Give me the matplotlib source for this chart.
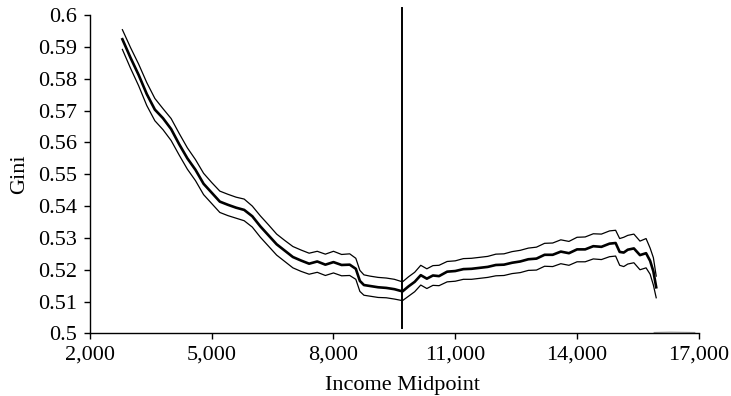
import numpy as np
import matplotlib.pyplot as plt

# income midpoints
income = [2800, 3000, 3200, 3400, 3600, 3800, 4000, 4200, 4400, 4600,
          4800, 5000, 5200, 5400, 5600, 5800, 6000, 6200, 6400, 6600,
          6800, 7000, 7200, 7400, 7600, 7800, 8000, 8200, 8400, 8550,
          8650, 8750, 8900, 9100, 9300, 9500, 9700, 9850, 10000, 10150,
          10300, 10450, 10600, 10800, 11000, 11200, 11400, 11600, 11800, 12000,
          12200, 12400, 12600, 12800, 13000, 13200, 13400, 13600, 13800, 14000,
          14200, 14400, 14600, 14800, 14950, 15050, 15150, 15250, 15400, 15550,
          15700, 15800, 15880, 15950]

# Gini estimate
gini_mid = [0.5924, 0.5866, 0.5812, 0.5752, 0.5703, 0.5676, 0.5642, 0.5594, 0.5550, 0.5514,
            0.5470, 0.5442, 0.5414, 0.5404, 0.5395, 0.5388, 0.5368, 0.5336, 0.5308, 0.5280,
            0.5260, 0.5240, 0.5229, 0.5219, 0.5226, 0.5216, 0.5224, 0.5215, 0.5216, 0.5203,
            0.5165, 0.5152, 0.5149, 0.5145, 0.5143, 0.5139, 0.5132, 0.5148, 0.5162, 0.5183,
            0.5172, 0.5182, 0.5180, 0.5194, 0.5196, 0.5202, 0.5203, 0.5206, 0.5209, 0.5215,
            0.5216, 0.5222, 0.5226, 0.5233, 0.5235, 0.5247, 0.5247, 0.5257, 0.5252, 0.5264,
            0.5264, 0.5274, 0.5272, 0.5282, 0.5284, 0.5256, 0.5254, 0.5263, 0.5267, 0.5246,
            0.5252, 0.5228, 0.5195, 0.5145]

# upper band
gini_hi = [0.5954, 0.5898, 0.5846, 0.5788, 0.5738, 0.5706, 0.5675, 0.5628, 0.5583, 0.5546,
           0.5503, 0.5474, 0.5447, 0.5437, 0.5428, 0.5422, 0.5400, 0.5369, 0.5341, 0.5312,
           0.5292, 0.5273, 0.5262, 0.5252, 0.5258, 0.5249, 0.5258, 0.5248, 0.5250, 0.5236,
           0.5198, 0.5184, 0.5180, 0.5176, 0.5174, 0.5170, 0.5162, 0.5178, 0.5192, 0.5214,
           0.5203, 0.5213, 0.5214, 0.5226, 0.5228, 0.5235, 0.5236, 0.5239, 0.5242, 0.5249,
           0.5250, 0.5257, 0.5261, 0.5268, 0.5271, 0.5283, 0.5284, 0.5294, 0.5289, 0.5302,
           0.5303, 0.5313, 0.5312, 0.5322, 0.5324, 0.5298, 0.5302, 0.5308, 0.5312, 0.5290,
           0.5298, 0.5268, 0.5238, 0.5180]

# lower band
gini_lo = [0.5892, 0.5833, 0.5778, 0.5716, 0.5668, 0.5640, 0.5606, 0.5560, 0.5516, 0.5480,
           0.5436, 0.5408, 0.5380, 0.5370, 0.5362, 0.5354, 0.5334, 0.5302, 0.5274, 0.5246,
           0.5226, 0.5206, 0.5195, 0.5186, 0.5192, 0.5182, 0.5190, 0.5181, 0.5182, 0.5170,
           0.5132, 0.5120, 0.5117, 0.5113, 0.5112, 0.5108, 0.5103, 0.5117, 0.5131, 0.5152,
           0.5141, 0.5151, 0.5150, 0.5162, 0.5164, 0.5170, 0.5170, 0.5173, 0.5176, 0.5181,
           0.5182, 0.5188, 0.5191, 0.5198, 0.5199, 0.5211, 0.5210, 0.5219, 0.5214, 0.5225,
           0.5225, 0.5234, 0.5232, 0.5241, 0.5243, 0.5214, 0.5210, 0.5218, 0.5222, 0.5200,
           0.5206, 0.5186, 0.5152, 0.5112]

# faint trailing segment near the axis
tail_x = [15900, 16300, 16900]
tail_y = [0.5003, 0.5004, 0.5003]

cutoff = 9700
cutoff_span = [0.5018, 0.6022]

x_ticks = [2000, 5000, 8000, 11000, 14000, 17000]
y_ticks = [0.5, 0.51, 0.52, 0.53, 0.54, 0.55, 0.56, 0.57, 0.58, 0.59, 0.6]

plt.rcParams['font.family'] = ['Liberation Serif', 'DejaVu Serif']

fig = plt.figure(figsize=(7.31, 3.96), dpi=100)
ax = fig.add_axes([0.123, 0.158, 0.833, 0.804])

ax.plot(income, gini_hi, color='black', lw=0.9)
ax.plot(income, gini_lo, color='black', lw=0.9)
ax.plot(income, gini_mid, color='black', lw=1.9)
ax.plot(tail_x, tail_y, color='#999999', lw=0.8)
ax.plot([cutoff, cutoff], cutoff_span, color='black', lw=1.4, clip_on=False)

ax.set_xlim(2000, 17000)
ax.set_ylim(0.5, 0.6)
ax.set_xticks(x_ticks)
ax.set_xticklabels([f'{v:,}' for v in x_ticks])
ax.set_yticks(y_ticks)
ax.set_yticklabels([f'{v:g}' for v in y_ticks])

for side in ['top', 'right']:
    ax.spines[side].set_visible(False)
for side in ['left', 'bottom']:
    ax.spines[side].set_linewidth(1.0)

ax.tick_params(direction='out', length=4, width=1.0, labelsize=16, pad=5)
ax.set_xlabel('Income Midpoint', fontsize=16, labelpad=2)
ax.set_ylabel('Gini', fontsize=16, labelpad=6)
ax.xaxis.set_label_coords(0.514, -0.135)
ax.yaxis.set_label_coords(-0.1, 0.5)

fig.savefig('out.png', dpi=100)
